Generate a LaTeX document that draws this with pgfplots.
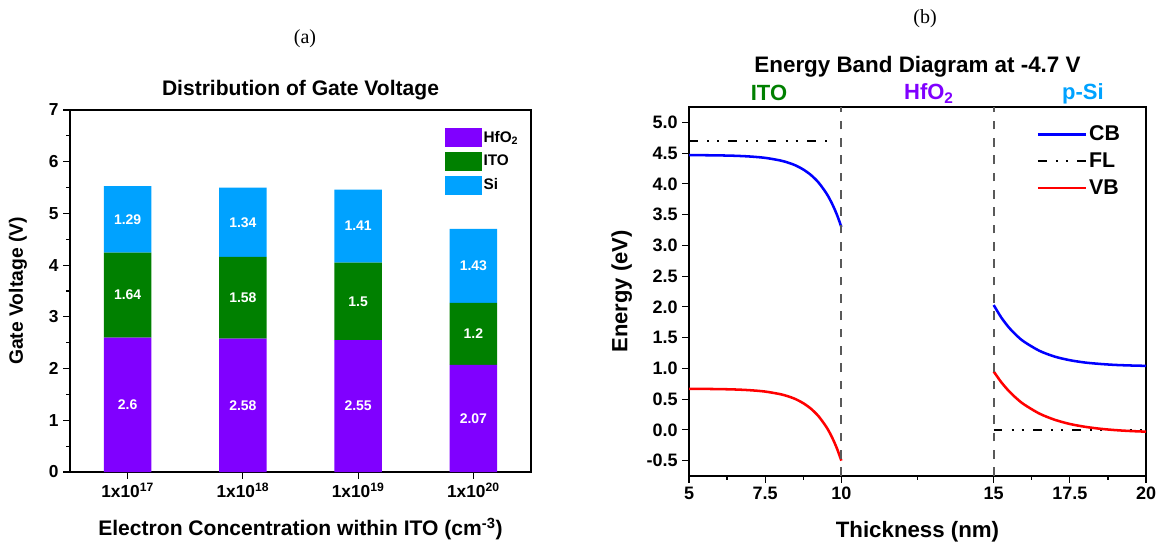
\documentclass[border=0pt]{standalone}
\usepackage{pgfplots}
\pgfplotsset{compat=1.18}
\usepackage{pgfplotstable}
\usepackage{fontspec}
\setmainfont{Liberation Sans}
\newfontfamily\seriffont{Liberation Serif}
\definecolor{hfo}{HTML}{8000FF}
\definecolor{ito}{HTML}{008000}
\definecolor{si}{HTML}{00A2FF}
\newcommand{\fs}[1]{\fontsize{#1}{#1}\selectfont\bfseries}

\pgfplotstableread{
x hfo ito si
0 2.60 1.64 1.29
1 2.58 1.58 1.34
2 2.55 1.50 1.41
3 2.07 1.20 1.43
}\gatetable

\begin{document}
\begin{tikzpicture}
\path[use as bounding box] (0,0) rectangle (872.25pt,408pt);

% panel labels
\node[anchor=base, font=\seriffont\fontsize{15}{15}\selectfont] at (228.75pt,375pt) {(a)};
\node[anchor=base, font=\seriffont\fontsize{15}{15}\selectfont] at (693.75pt,390pt) {(b)};

% ---------------- left chart ----------------
\begin{axis}[
  at={(52.5pt,54pt)}, anchor=south west,
  width=345.75pt, height=271.5pt, scale only axis,
  ybar stacked, bar width=35.5pt,
  xmin=-0.5, xmax=3.5, ymin=0, ymax=7,
  xtick={0,1,2,3},
  xticklabels={1x10\textsuperscript{17},1x10\textsuperscript{18},1x10\textsuperscript{19},1x10\textsuperscript{20}},
  ytick={0,1,2,3,4,5,6,7}, minor y tick num=1,
  xtick pos=bottom, ytick pos=left, tick align=outside,
  major tick length=5pt, minor tick length=2.8pt,
  tick style={black, line width=0.9pt},
  axis line style={line width=1pt},
  /pgf/number format/assume math mode=true,
  tick label style={font=\fs{13}},
  x tick label style={font=\fs{13}},
  title={Distribution of Gate Voltage},
  title style={font=\fs{15.8}, at={(0.5,1)}, anchor=base, yshift=4.8pt},
  xlabel={Electron Concentration within ITO (cm\textsuperscript{-3})},
  xlabel style={font=\fs{15.8}, at={(axis description cs:0.5,0)}, anchor=base, yshift=-47.5pt},
  ylabel={Gate Voltage (V)},
  ylabel style={font=\fs{14.5}, at={(axis description cs:-0.113,0.5)}, anchor=center},
  legend style={at={(0.812,0.95)}, anchor=north west, draw=none, fill=none,
     font=\fs{11.5}, inner sep=0pt, row sep=3.5pt,
     nodes={inner sep=1.5pt}},
  legend image code/.code={\path[#1, draw=none] (0pt,-7.1pt) rectangle (27.75pt,7.1pt);},
  legend cell align=left,
]
\addplot[fill=hfo, draw=none] table[x=x, y=hfo] {\gatetable};
\addplot[fill=ito, draw=none] table[x=x, y=ito] {\gatetable};
\addplot[fill=si, draw=none] table[x=x, y=si] {\gatetable};
\legend{HfO\textsubscript{2}, ITO, Si}
\end{axis}

% bar value labels (overlay, same geometry)
\begin{axis}[
  at={(52.5pt,54pt)}, anchor=south west,
  width=345.75pt, height=271.5pt, scale only axis,
  xmin=-0.5, xmax=3.5, ymin=0, ymax=7, hide axis,
]
\addplot[draw=none, mark=none, nodes near coords, point meta=explicit symbolic,
  every node near coord/.append style={anchor=center, text=white, font=\fs{10.5}}]
  coordinates {
  (0,1.30)[2.6] (0,3.42)[1.64] (0,4.885)[1.29]
  (1,1.29)[2.58] (1,3.37)[1.58] (1,4.83)[1.34]
  (2,1.275)[2.55] (2,3.30)[1.5] (2,4.755)[1.41]
  (3,1.035)[2.07] (3,2.67)[1.2] (3,3.985)[1.43]
  };
\end{axis}

% ---------------- right chart ----------------
\begin{axis}[
  at={(516.75pt,51pt)}, anchor=south west,
  width=342.75pt, height=276.75pt, scale only axis,
  xmin=5, xmax=20, ymin=-0.75, ymax=5.25,
  xtick={5,7.5,10,15,17.5,20}, xticklabels={5,7.5,10,15,17.5,20},
  minor xtick={6.25,8.75,12.5,16.25,18.75},
  ytick={-0.5,0,0.5,1,1.5,2,2.5,3,3.5,4,4.5,5},
  yticklabels={-0.5,0.0,0.5,1.0,1.5,2.0,2.5,3.0,3.5,4.0,4.5,5.0},
  xtick pos=bottom, ytick pos=left, tick align=outside,
  major tick length=5pt, minor tick length=2.8pt,
  tick style={black, line width=0.9pt},
  axis line style={line width=1pt},
  /pgf/number format/assume math mode=true,
  tick label style={font=\fs{13.5}},
  xlabel={Thickness (nm)},
  xlabel style={font=\fs{16.7}, at={(axis description cs:0.5,0)}, anchor=base, yshift=-46pt},
  ylabel={Energy (eV)},
  ylabel style={font=\fs{16.5}, at={(axis description cs:-0.147,0.5)}, anchor=center},
  clip=false,
  legend style={at={(0.76,0.955)}, anchor=north west, draw=none, fill=none,
     font=\fs{16}, inner sep=0pt, row sep=4.5pt, nodes={inner sep=1.5pt}},
  legend image code/.code={\draw[#1] (0pt,0pt) -- (36pt,0pt);},
  legend cell align=left,
]
\addplot[blue, line width=1.9pt, smooth] coordinates {
(5,4.468) (5.5,4.466) (6,4.463) (6.5,4.457) (7,4.445) (7.5,4.423) (8,4.38) (8.25,4.346)
(8.5,4.30) (8.75,4.234) (9,4.145) (9.25,4.023) (9.5,3.854) (9.625,3.747) (9.75,3.621) (9.875,3.473) (10,3.30)};
\addlegendentry{CB}
\addplot[blue, line width=1.9pt, smooth, forget plot] coordinates {
(15,2.03) (15.25,1.827) (15.5,1.665) (15.75,1.536) (16,1.433) (16.5,1.286) (17,1.192)
(17.5,1.133) (18,1.095) (18.5,1.072) (19,1.056) (19.5,1.047) (20,1.041)};
\addplot[black, line width=1.9pt, dash pattern=on 6.5pt off 7pt on 1.5pt off 6pt on 1.5pt off 7pt] coordinates {(5,4.7) (9.7,4.7)};
\addlegendentry{FL}
\addplot[black, line width=1.9pt, dash pattern=on 6.5pt off 7pt on 1.5pt off 6pt on 1.5pt off 7pt, forget plot] coordinates {(15,0) (20,0)};
\addplot[red, line width=1.9pt, smooth] coordinates {
(5,0.668) (5.5,0.666) (6,0.663) (6.5,0.657) (7,0.645) (7.5,0.623) (8,0.58) (8.25,0.546)
(8.5,0.50) (8.75,0.434) (9,0.345) (9.25,0.223) (9.5,0.054) (9.625,-0.053) (9.75,-0.179) (9.875,-0.327) (10,-0.50)};
\addlegendentry{VB}
\addplot[red, line width=1.9pt, smooth, forget plot] coordinates {
(15,0.95) (15.25,0.775) (15.5,0.631) (15.75,0.512) (16,0.413) (16.5,0.265) (17,0.165)
(17.5,0.096) (18,0.050) (18.5,0.018) (19,-0.004) (19.5,-0.019) (20,-0.029)};
\addplot[black!65, line width=1.4pt, dash pattern=on 6.5pt off 6.5pt, forget plot] coordinates {(10,-0.75) (10,5.25)};
\addplot[black!65, line width=1.4pt, dash pattern=on 6.5pt off 6.5pt, forget plot] coordinates {(15,-0.75) (15,5.25)};
\node[font=\fs{16.8}, anchor=center] at (axis description cs:0.5,1.11) {Energy Band Diagram at -4.7 V};
\node[font=\fs{16.5}, anchor=center, text=ito] at (axis description cs:0.175,1.037) {ITO};
\node[font=\fs{16.5}, anchor=center, text=hfo] at (axis description cs:0.525,1.037) {HfO\textsubscript{2}};
\node[font=\fs{16.5}, anchor=center, text=si] at (axis description cs:0.862,1.037) {p-Si};
\end{axis}
\end{tikzpicture}
\end{document}
